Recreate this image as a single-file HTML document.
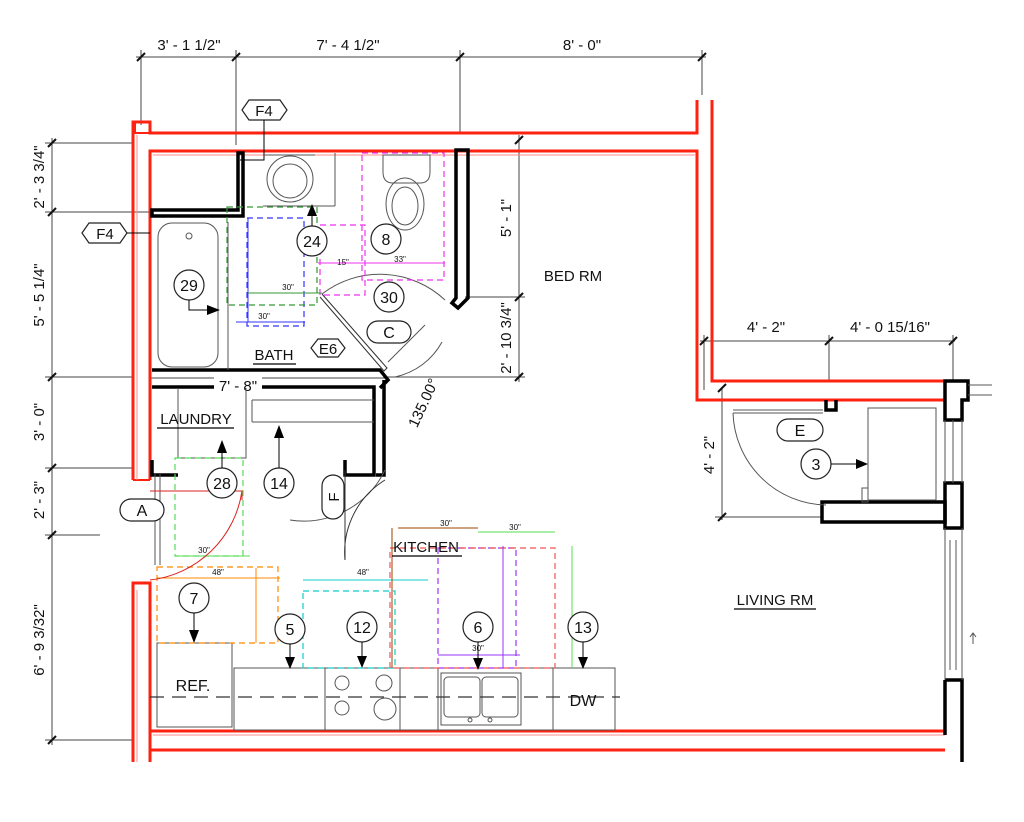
<!DOCTYPE html>
<html><head><meta charset="utf-8"><style>
html,body{margin:0;padding:0;background:#fff}
svg{display:block}
text{font-family:"Liberation Sans",sans-serif;fill:#111}
</style></head><body>
<svg width="1024" height="822" viewBox="0 0 1024 822" xmlns="http://www.w3.org/2000/svg">
<rect width="1024" height="822" fill="#fff"/>
<g stroke="#444" stroke-width="1" fill="none">
<line x1="136" y1="57" x2="706" y2="57"/>
<line x1="141" y1="50" x2="141" y2="125"/>
<line x1="236" y1="50" x2="236" y2="145"/>
<line x1="460" y1="50" x2="460" y2="133"/>
<line x1="702" y1="50" x2="702" y2="95"/>
<line x1="52" y1="138" x2="52" y2="745"/>
<line x1="45" y1="143" x2="133" y2="143"/>
<line x1="45" y1="212" x2="150" y2="212"/>
<line x1="45" y1="377" x2="133" y2="377"/>
<line x1="45" y1="468" x2="133" y2="468"/>
<line x1="45" y1="535" x2="100" y2="535"/>
<line x1="45" y1="740" x2="133" y2="740"/>
<line x1="519" y1="135" x2="519" y2="382"/>
<line x1="465" y1="297" x2="525" y2="297"/>
<line x1="385" y1="377" x2="525" y2="377"/>
<line x1="700" y1="341" x2="955" y2="341"/>
<line x1="704" y1="335" x2="704" y2="390"/>
<line x1="829" y1="335" x2="829" y2="381"/>
<line x1="953" y1="335" x2="953" y2="381"/>
<line x1="722" y1="388" x2="722" y2="520"/>
<line x1="715" y1="517" x2="822" y2="517"/>
<line x1="150" y1="378" x2="385" y2="378"/>
</g>
<g stroke="#111" stroke-width="2">
<line x1="137" y1="61" x2="145" y2="53"/><line x1="232" y1="61" x2="240" y2="53"/><line x1="456" y1="61" x2="464" y2="53"/><line x1="698" y1="61" x2="706" y2="53"/>
<line x1="48" y1="147" x2="56" y2="139"/><line x1="48" y1="216" x2="56" y2="208"/><line x1="48" y1="381" x2="56" y2="373"/><line x1="48" y1="472" x2="56" y2="464"/><line x1="48" y1="539" x2="56" y2="531"/><line x1="48" y1="744" x2="56" y2="736"/>
<line x1="515" y1="144" x2="523" y2="136"/><line x1="515" y1="301" x2="523" y2="293"/><line x1="515" y1="381" x2="523" y2="373"/>
<line x1="700" y1="345" x2="708" y2="337"/><line x1="825" y1="345" x2="833" y2="337"/><line x1="949" y1="345" x2="957" y2="337"/>
<line x1="718" y1="392" x2="726" y2="384"/><line x1="718" y1="521" x2="726" y2="513"/>
</g>
<g font-size="15" text-anchor="middle">
<text x="189" y="50">3' - 1 1/2"</text>
<text x="348" y="50">7' - 4 1/2"</text>
<text x="582" y="50">8' - 0"</text>
<text x="766" y="332">4' - 2"</text>
<text x="890" y="332">4' - 0 15/16"</text>
<text transform="translate(44,177) rotate(-90)">2' - 3 3/4"</text>
<text transform="translate(44,295) rotate(-90)">5' - 5 1/4"</text>
<text transform="translate(44,422) rotate(-90)">3' - 0"</text>
<text transform="translate(44,500) rotate(-90)">2' - 3"</text>
<text transform="translate(44,640) rotate(-90)">6' - 9 3/32"</text>
<text transform="translate(511,218) rotate(-90)">5' - 1"</text>
<text transform="translate(511,338) rotate(-90)">2' - 10 3/4"</text>
<text transform="translate(714,455) rotate(-90)">4' - 2"</text>
<text transform="translate(428,405) rotate(-65)">135.00°</text>
</g>
<g stroke="#f21" stroke-width="3" fill="none">
<path d="M133,480 V122 H150 V133 H697 V100"/>
<path d="M150,480 V151 H697 V400 H945"/>
<path d="M712,100 V381 H945"/>
<rect x="135" y="122" width="15" height="11" stroke-width="2"/>
<path d="M133,762 V583 H150 V762"/>
<path d="M150,731 H945"/>
<path d="M150,750 H945"/>
<path d="M133,480 H150" stroke-width="2"/>
</g>
<g stroke="#f88" stroke-width="1" fill="none">
<path d="M137,480 V135 M153,155 H695 M153,735 H945 M137,590 V762"/>
</g>
<g stroke="#000" stroke-width="3.5" fill="none">
<path d="M152,210 H238 V153 H243 V216 H152 Z"/>
<path d="M456,150 V298 L452,303 L458,308 L468,298 V150 Z"/>
<path d="M152,370 H380 L388,380 L380,388"/>
<path d="M152,387 H374 V475 H345 V460"/>
<path d="M152,460 V475 H178"/>
<path d="M384,380 V475 H376"/>
<path d="M945,381 H968 V400 H962 V420 H945 Z"/>
<path d="M945,483 H962 V528 H945 Z"/>
<path d="M945,680 H962 V762"/>
<path d="M945,680 V735"/>
<path d="M826,400 V410 H836 V400"/>
<path d="M826,502 H945 V522 H822 V502 Z"/>
</g>
<rect x="214" y="376" width="48" height="16" fill="#fff"/>
<text x="238" y="391" font-size="15" text-anchor="middle">7' - 8"</text>
<g stroke="#555" stroke-width="1" fill="none">
<line x1="945" y1="420" x2="945" y2="483"/><line x1="962" y1="420" x2="962" y2="483"/><line x1="953" y1="420" x2="953" y2="483"/>
<line x1="945" y1="528" x2="945" y2="680"/><line x1="962" y1="528" x2="962" y2="680"/><line x1="950" y1="540" x2="950" y2="670"/><line x1="956" y1="540" x2="956" y2="670"/>
<line x1="968" y1="385" x2="992" y2="385"/><line x1="968" y1="395" x2="992" y2="395"/>
<path d="M973,644 V634 M970,637 L973,633 L976,637"/>
<rect x="158" y="223" width="60" height="144" rx="14"/>
<circle cx="189" cy="236" r="3"/>
<circle cx="290" cy="179" r="23"/><circle cx="290" cy="181" r="17"/>
<path d="M265,155 H315 M263,206 H335 M335,153 V206"/>
<path d="M383,155 H430 V172 Q430,183 420,183 H393 Q383,183 383,172 Z"/>
<ellipse cx="405" cy="204" rx="19" ry="26"/><ellipse cx="405" cy="206" rx="13" ry="19"/>
<path d="M228,222 V370"/>
<path d="M322,294 L387,368 L384,371 L320,297" stroke="#333"/>
<path d="M322,294 A95,95 0 0 1 445,300"/>
<path d="M395,377 A70,70 0 0 0 442,342"/>
<path d="M388,362 L425,325" />
<path d="M178,388 V458 H246 V388"/>
<path d="M252,400 H374 M252,422 H374 M252,400 V422"/>
<path d="M160,474 V565 M155,474 V565"/>
<path d="M385,470 A90,90 0 0 1 290,520"/>
<path d="M385,480 A85,85 0 0 0 345,560 V470" stroke="#333"/>
<path d="M733,410 H823 M733,413 H823"/>
<path d="M733,413 A95,95 0 0 0 826,505"/>
<rect x="868" y="408" width="68" height="92"/>
<rect x="862" y="488" width="6" height="14"/>
<rect x="157" y="643" width="75" height="84"/>
<rect x="234" y="668" width="381" height="62"/>
<path d="M325,668 V730 M400,668 V730 M438,668 V730 M553,668 V730"/>
<circle cx="342" cy="683" r="7"/><circle cx="384" cy="683" r="8"/><circle cx="342" cy="708" r="7"/><circle cx="385" cy="709" r="11"/>
<rect x="441" y="673" width="80" height="52"/>
<rect x="444" y="677" width="36" height="40" rx="4"/><rect x="482" y="677" width="36" height="40" rx="4"/>
<circle cx="470" cy="720" r="2"/><circle cx="490" cy="720" r="2"/>
</g>
<line x1="150" y1="697" x2="620" y2="697" stroke="#333" stroke-width="1.2" stroke-dasharray="14,8"/>
<g fill="none" stroke-width="1.2" stroke-dasharray="6,4">
<rect x="247" y="218" width="57" height="108" stroke="#33f"/>
<rect x="227" y="207" width="90" height="98" stroke="#393" />
<rect x="362" y="153" width="82" height="127" stroke="#e3e"/>
<rect x="320" y="225" width="45" height="70" stroke="#e3e"/>
<rect x="157" y="567" width="121" height="76" stroke="#f80"/>
<rect x="303" y="591" width="92" height="77" stroke="#1cc"/>
<rect x="438" y="548" width="78" height="120" stroke="#93f"/>
<rect x="390" y="548" width="165" height="120" stroke="#e55"/>
<rect x="175" y="458" width="68" height="98" stroke="#5d5"/>
</g>
<g stroke-width="1" fill="none">
<line x1="236" y1="322" x2="305" y2="322" stroke="#33f"/><line x1="248" y1="218" x2="248" y2="322" stroke="#33f"/>
<line x1="248" y1="293" x2="322" y2="293" stroke="#393"/>
<line x1="318" y1="263" x2="445" y2="263" stroke="#e3e"/>
<line x1="157" y1="578" x2="280" y2="578" stroke="#f80"/><line x1="256" y1="568" x2="256" y2="643" stroke="#f80"/>
<line x1="303" y1="580" x2="428" y2="580" stroke="#1cc"/>
<line x1="398" y1="528" x2="478" y2="528" stroke="#940"/><line x1="392" y1="528" x2="392" y2="668" stroke="#940"/>
<line x1="478" y1="532" x2="555" y2="532" stroke="#5d5"/><line x1="572" y1="546" x2="572" y2="668" stroke="#5d5"/>
<line x1="503" y1="546" x2="503" y2="668" stroke="#93f"/><line x1="438" y1="655" x2="520" y2="655" stroke="#93f"/>
<line x1="175" y1="556" x2="250" y2="556" stroke="#5d5"/>
<path d="M150,491 H242 V500 M242,491 A105,105 0 0 1 150,580" stroke="#d22"/>
</g>
<g font-size="8" text-anchor="middle">
<text x="264" y="319" fill="#33f">30"</text><text x="288" y="290" fill="#393">30"</text>
<text x="400" y="262" fill="#e3e">33"</text><text x="343" y="265" fill="#e3e">15"</text>
<text x="218" y="575" fill="#f80">48"</text><text x="204" y="553" fill="#5d5">30"</text>
<text x="363" y="575" fill="#1cc">48"</text><text x="446" y="526" fill="#940">30"</text>
<text x="515" y="530" fill="#5d5">30"</text><text x="478" y="651" fill="#93f">30"</text>
</g>
<g font-size="15" text-anchor="middle">
<text x="573" y="281">BED RM</text>
<text x="775" y="605">LIVING RM</text>
<text x="426" y="552">KITCHEN</text>
<text x="274" y="360">BATH</text>
<text x="196" y="424">LAUNDRY</text>
<text x="193" y="691" font-size="16">REF.</text>
<text x="583" y="706" font-size="16">DW</text>
</g>
<g stroke="#000" stroke-width="1.3">
<line x1="392" y1="556" x2="462" y2="556"/><line x1="253" y1="364" x2="296" y2="364"/><line x1="157" y1="428" x2="234" y2="428"/><line x1="734" y1="609" x2="816" y2="609"/>
</g>
<g fill="#fff" stroke="#222" stroke-width="1.2">
<circle cx="312" cy="241" r="15"/><circle cx="386" cy="239" r="15"/><circle cx="189" cy="285" r="15"/><circle cx="389" cy="297" r="15"/>
<circle cx="222" cy="483" r="15"/><circle cx="279" cy="483" r="15"/><circle cx="194" cy="598" r="15"/><circle cx="290" cy="629" r="15"/>
<circle cx="362" cy="627" r="15"/><circle cx="478" cy="627" r="15"/><circle cx="583" cy="627" r="15"/><circle cx="816" cy="464" r="15"/>
<rect x="367" y="321" width="44" height="22" rx="11"/>
<rect x="777" y="419" width="46" height="22" rx="11"/>
<rect x="120" y="499" width="44" height="22" rx="11"/>
<rect x="322" y="475" width="22" height="44" rx="11"/>
<path d="M311,348 L318,339 H338 L345,348 L338,357 H318 Z"/>
<path d="M242,110 L249,100 H280 L287,110 L280,120 H249 Z"/>
<path d="M82,233 L89,223 H120 L127,233 L120,243 H89 Z"/>
</g>
<g stroke="#000" stroke-width="1" fill="none">
<path d="M312,226 V216 M189,300 V310 H210 M222,468 V453 M279,468 V438 M194,613 V630 M290,644 V657 M362,642 V656 M478,642 V658 M583,642 V657 M831,464 H858 M264,120 V160 H240 M127,233 H150"/>
</g>
<g fill="#000">
<path d="M307,216 L312,204 L317,216 Z"/><path d="M207,305 L220,310 L207,315 Z"/>
<path d="M217,453 L222,440 L227,453 Z"/><path d="M274,438 L279,425 L284,438 Z"/>
<path d="M189,630 L194,643 L199,630 Z"/><path d="M285,657 L290,669 L295,657 Z"/>
<path d="M357,656 L362,668 L367,656 Z"/><path d="M473,658 L478,670 L483,658 Z"/>
<path d="M578,657 L583,669 L588,657 Z"/><path d="M856,459 L868,464 L856,469 Z"/>
</g>
<g font-size="16" text-anchor="middle">
<text x="312" y="247">24</text><text x="386" y="245">8</text><text x="189" y="291">29</text><text x="389" y="303">30</text>
<text x="222" y="489">28</text><text x="279" y="489">14</text><text x="194" y="604">7</text><text x="290" y="635">5</text>
<text x="362" y="633">12</text><text x="478" y="633">6</text><text x="583" y="633">13</text><text x="816" y="470">3</text>
<text x="389" y="338">C</text><text x="800" y="436">E</text><text x="142" y="516">A</text>
<text x="328" y="354" font-size="15">E6</text><text x="264" y="116" font-size="15">F4</text><text x="105" y="239" font-size="15">F4</text>
<text transform="translate(339,497) rotate(-90)" font-size="15">F</text>
</g>
</svg>
</body></html>
